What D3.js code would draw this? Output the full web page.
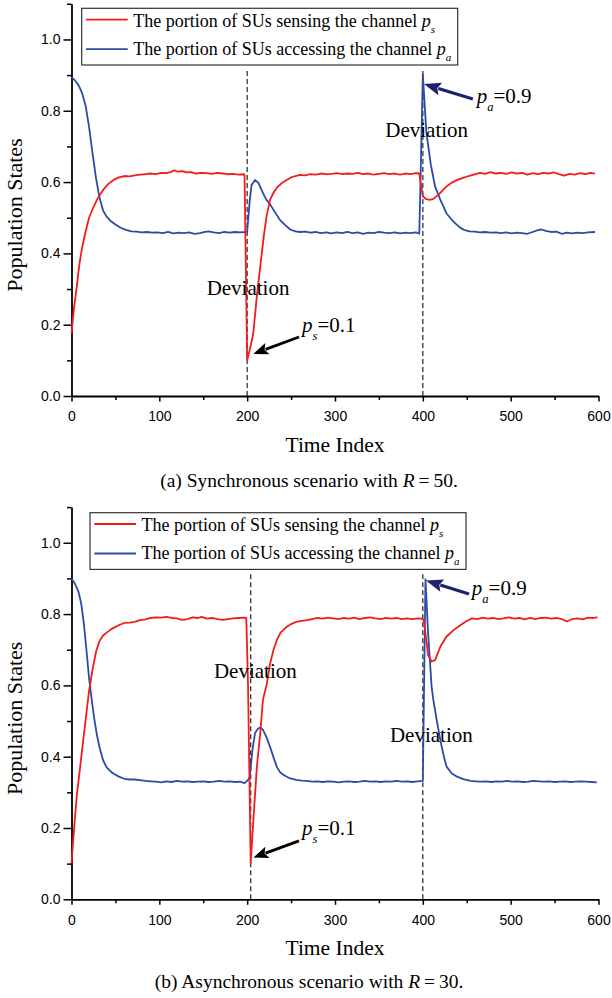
<!DOCTYPE html>
<html>
<head>
<meta charset="utf-8">
<script src="https://cdn.jsdelivr.net/npm/d3@7"></script>
<style>
  body { margin: 0; background: #fff; }
  svg { display: block; }
</style>
</head>
<body>
<script>
// values, [time index, population state]
const psSync = [[0,0.176],[3,0.25],[6,0.307],[9,0.37],[12,0.415],[16,0.46],[20,0.5],[25,0.53],[30,0.555],[36,0.578],[42,0.595],[48,0.606],[54,0.613],[60,0.617],[66,0.616],[72,0.619],[78,0.621],[84,0.622],[90,0.624],[96,0.622],[102,0.626],[108,0.625],[113,0.628],[117,0.633],[121,0.629],[126,0.631],[131,0.627],[136,0.628],[142,0.624],[148,0.626],[154,0.625],[160,0.623],[166,0.626],[172,0.624],[178,0.622],[184,0.623],[190,0.621],[196,0.622],[197,0.62],[200,0.101],[203,0.13],[207,0.176],[211,0.28],[215,0.365],[219,0.45],[222,0.503],[226,0.55],[230,0.57],[234,0.585],[240,0.598],[245,0.606],[250,0.613],[255,0.617],[260,0.62],[266,0.619],[272,0.622],[278,0.621],[284,0.624],[290,0.622],[296,0.623],[302,0.625],[308,0.622],[314,0.624],[320,0.623],[326,0.626],[332,0.622],[338,0.624],[344,0.621],[350,0.623],[356,0.625],[362,0.622],[368,0.624],[374,0.621],[380,0.624],[386,0.622],[392,0.625],[396,0.624],[398,0.59],[400,0.56],[404,0.552],[408,0.55],[412,0.553],[418,0.565],[423,0.578],[428,0.59],[434,0.6],[440,0.607],[446,0.612],[452,0.617],[458,0.621],[465,0.626],[471,0.623],[477,0.628],[483,0.624],[489,0.626],[495,0.623],[501,0.627],[507,0.624],[513,0.626],[519,0.621],[525,0.625],[531,0.622],[537,0.626],[543,0.624],[549,0.627],[555,0.622],[561,0.618],[567,0.623],[573,0.621],[579,0.625],[585,0.622],[591,0.626],[596,0.624]];

const paSync = [[0,0.894],[4,0.885],[8,0.872],[12,0.85],[16,0.815],[20,0.755],[24,0.68],[28,0.61],[32,0.555],[36,0.52],[40,0.503],[45,0.49],[50,0.481],[56,0.472],[62,0.466],[68,0.462],[74,0.461],[80,0.459],[86,0.46],[92,0.458],[98,0.459],[104,0.457],[110,0.46],[116,0.456],[122,0.458],[128,0.457],[134,0.459],[140,0.455],[146,0.457],[152,0.46],[156,0.462],[162,0.459],[168,0.457],[174,0.46],[180,0.458],[186,0.46],[192,0.459],[198,0.46],[200,0.461],[203,0.55],[205,0.592],[209,0.606],[213,0.597],[218,0.569],[222,0.55],[226,0.538],[230,0.522],[237,0.495],[243,0.48],[249,0.467],[255,0.462],[260,0.46],[266,0.461],[272,0.458],[278,0.46],[284,0.457],[290,0.459],[296,0.456],[302,0.459],[308,0.457],[314,0.46],[320,0.457],[326,0.459],[332,0.455],[338,0.458],[344,0.457],[350,0.46],[356,0.458],[362,0.457],[368,0.459],[374,0.456],[380,0.458],[386,0.457],[392,0.459],[396,0.455],[400,0.902],[404,0.74],[409,0.65],[414,0.587],[420,0.55],[427,0.512],[432,0.497],[437,0.484],[442,0.473],[447,0.466],[453,0.462],[459,0.461],[465,0.459],[471,0.46],[477,0.458],[483,0.459],[489,0.457],[495,0.459],[501,0.456],[507,0.458],[513,0.457],[519,0.455],[525,0.46],[531,0.465],[535,0.467],[540,0.463],[546,0.46],[552,0.461],[558,0.455],[564,0.458],[570,0.456],[576,0.458],[582,0.457],[588,0.459],[596,0.46]];

const psAsync = [[0,0.101],[3,0.2],[6,0.29],[10,0.375],[14,0.46],[17,0.522],[20,0.585],[24,0.645],[28,0.695],[32,0.725],[36,0.74],[40,0.748],[45,0.757],[50,0.764],[55,0.77],[60,0.775],[66,0.776],[72,0.778],[78,0.783],[84,0.785],[90,0.789],[96,0.791],[102,0.79],[108,0.792],[114,0.789],[120,0.788],[126,0.784],[132,0.786],[138,0.791],[144,0.789],[148,0.792],[154,0.787],[160,0.789],[166,0.786],[172,0.784],[178,0.786],[184,0.788],[190,0.789],[196,0.79],[199,0.789],[201,0.6],[204,0.101],[207,0.22],[211,0.37],[215,0.47],[218,0.56],[222,0.6],[226,0.66],[230,0.7],[234,0.728],[238,0.748],[244,0.762],[250,0.772],[256,0.778],[262,0.781],[268,0.783],[274,0.786],[280,0.789],[286,0.787],[292,0.79],[298,0.788],[304,0.786],[310,0.789],[316,0.787],[322,0.79],[328,0.786],[334,0.789],[340,0.791],[346,0.788],[352,0.786],[358,0.789],[364,0.787],[370,0.789],[376,0.786],[382,0.788],[388,0.786],[394,0.788],[399,0.787],[401,0.783],[404,0.727],[406,0.685],[410,0.667],[414,0.671],[420,0.709],[427,0.737],[435,0.755],[441,0.766],[446,0.774],[451,0.782],[456,0.788],[462,0.786],[468,0.79],[474,0.787],[480,0.789],[486,0.786],[492,0.788],[498,0.791],[504,0.787],[510,0.789],[516,0.785],[522,0.789],[528,0.786],[534,0.789],[540,0.79],[546,0.787],[552,0.789],[558,0.786],[564,0.779],[570,0.786],[576,0.788],[582,0.785],[588,0.79],[594,0.789],[599,0.791]];

const paAsync = [[0,0.9],[4,0.885],[8,0.862],[11,0.83],[14,0.775],[17,0.7],[20,0.62],[23,0.56],[26,0.505],[29,0.46],[32,0.425],[36,0.39],[40,0.37],[44,0.36],[48,0.352],[54,0.344],[60,0.338],[66,0.336],[72,0.336],[78,0.334],[84,0.332],[90,0.331],[96,0.33],[102,0.328],[108,0.331],[114,0.329],[120,0.332],[126,0.33],[132,0.331],[138,0.329],[144,0.33],[150,0.331],[156,0.329],[162,0.33],[168,0.332],[174,0.33],[180,0.331],[186,0.329],[192,0.33],[197,0.326],[201,0.335],[203,0.344],[206,0.419],[209,0.466],[212,0.478],[215,0.482],[218,0.475],[222,0.455],[226,0.428],[230,0.398],[234,0.37],[238,0.355],[242,0.348],[249,0.339],[256,0.335],[262,0.333],[268,0.332],[274,0.33],[280,0.331],[286,0.329],[292,0.331],[298,0.33],[304,0.328],[310,0.33],[316,0.331],[322,0.329],[328,0.33],[334,0.332],[340,0.33],[346,0.331],[352,0.329],[358,0.331],[364,0.33],[370,0.332],[376,0.33],[382,0.331],[388,0.329],[394,0.331],[400,0.332],[403,0.898],[406,0.746],[410,0.596],[412,0.559],[416,0.5],[420,0.445],[424,0.4],[427,0.372],[433,0.353],[439,0.344],[446,0.337],[454,0.332],[460,0.331],[466,0.33],[472,0.331],[478,0.329],[484,0.331],[490,0.33],[496,0.332],[502,0.33],[508,0.331],[514,0.329],[520,0.33],[526,0.332],[532,0.331],[538,0.33],[544,0.331],[550,0.329],[556,0.33],[562,0.331],[568,0.329],[574,0.33],[580,0.331],[586,0.33],[592,0.329],[598,0.328]];

const xTicks = [0, 100, 200, 300, 400, 500, 600];
const xMinor = [50, 150, 250, 350, 450, 550];
const yTicks = [0, 0.2, 0.4, 0.6, 0.8, 1.0];
const yMinor = [0.1, 0.3, 0.5, 0.7, 0.9, 1.1];

const deviationSync = [200, 400];
const deviationAsync = [204, 400];

const legendText = ["The portion of SUs sensing the channel ", "The portion of SUs accessing the channel "];
const legendSub = ["s", "a"];

const RED = "#f21c1c", BLUE = "#2b4ca6", NAVY = "#1e2170";
const SERIF = "'Liberation Serif', 'Times New Roman', serif";
const SANS = "'Liberation Sans', Arial, sans-serif";

const W = 612, H = 998;
const svg = d3.select("body").append("svg").attr("width", W).attr("height", H);

// filled arrow from tail to tip (pixel coords)
function arrow(g, x1, y1, x2, y2, color, lw, hl, hw) {
  const dx = x2 - x1, dy = y2 - y1, len = Math.hypot(dx, dy);
  const ux = dx / len, uy = dy / len;
  const bx = x2 - ux * hl, by = y2 - uy * hl;
  g.append("line").attr("x1", x1).attr("y1", y1).attr("x2", bx + ux * 2).attr("y2", by + uy * 2)
    .attr("stroke", color).attr("stroke-width", lw);
  g.append("polygon")
    .attr("points", [[x2, y2], [bx - uy * hw, by + ux * hw], [bx + ux * 3, by + uy * 3], [bx + uy * hw, by - ux * hw]].map(p => p.join(",")).join(" "))
    .attr("fill", color);
}

function subText(g, x, y, size, sub, rest, color) {
  const t = g.append("text").attr("x", x).attr("y", y)
    .attr("font-family", SERIF).attr("font-size", size).attr("fill", color || "#000");
  t.append("tspan").attr("font-style", "italic").text("p");
  t.append("tspan").attr("font-style", "italic").attr("font-size", size * 0.6).attr("dy", size * 0.38).text(sub);
  if (rest) t.append("tspan").attr("dy", -size * 0.38).text(rest);
  return t;
}

function drawPanel(p) {
  const x = d3.scaleLinear().domain([0, 600]).range([71.5, 598.5]);
  const y = d3.scaleLinear().domain([0, 1.1]).range([p.base, p.base - 392.2]);
  const g = svg.append("g");

  // dashed deviation markers
  p.dev.forEach(t => {
    g.append("line")
      .attr("x1", x(t)).attr("x2", x(t))
      .attr("y1", y(0)).attr("y2", y(0.912))
      .attr("stroke", "#333").attr("stroke-width", 1.3)
      .attr("stroke-dasharray", "5,3");
  });

  // axes
  g.append("g").attr("transform", `translate(0,${y(0)})`)
    .call(d3.axisBottom(x).tickValues(xTicks).tickSize(5.5).tickSizeOuter(0).tickPadding(10).tickFormat(d3.format("d")));
  g.append("g").attr("transform", `translate(0,${y(0)})`)
    .call(d3.axisBottom(x).tickValues(xMinor).tickSize(4).tickFormat(""))
    .select(".domain").remove();
  g.append("g").attr("transform", `translate(${x(0)},0)`)
    .call(d3.axisLeft(y).tickValues(yTicks).tickSize(8).tickSizeOuter(0).tickPadding(3).tickFormat(d3.format(".1f")));
  g.append("g").attr("transform", `translate(${x(0)},0)`)
    .call(d3.axisLeft(y).tickValues(yMinor).tickSize(4.5).tickFormat(""))
    .select(".domain").remove();

  g.selectAll(".domain").attr("stroke", "#000").attr("stroke-width", 1.8);
  g.selectAll(".tick line").attr("stroke", "#000").attr("stroke-width", 1.5);
  g.selectAll(".tick text").attr("font-family", SANS).attr("font-size", 14).attr("fill", "#000");

  // axis titles
  g.append("text").attr("x", (x(0) + x(600)) / 2).attr("y", p.base + 55.7)
    .attr("text-anchor", "middle").attr("font-family", SERIF).attr("font-size", 21.5)
    .text("Time Index");
  g.append("text").attr("transform", `translate(22,${p.base - 181}) rotate(-90)`)
    .attr("text-anchor", "middle").attr("font-family", SERIF).attr("font-size", 22)
    .text("Population States");

  // curves
  const line = d3.line().x(d => x(d[0])).y(d => y(d[1]));
  g.append("path").datum(p.pa).attr("d", line).attr("fill", "none")
    .attr("stroke", BLUE).attr("stroke-width", 1.8).attr("stroke-linejoin", "round");
  g.append("path").datum(p.ps).attr("d", line).attr("fill", "none")
    .attr("stroke", RED).attr("stroke-width", 1.8).attr("stroke-linejoin", "round");

  // legend
  const lg = g.append("g").attr("transform", `translate(${p.legX},${p.legY})`);
  lg.append("rect").attr("width", 376).attr("height", 56.7)
    .attr("fill", "#fff").attr("stroke", "#333").attr("stroke-width", 1.2);
  [RED, BLUE].forEach((c, i) => {
    lg.append("line").attr("x1", 4.3).attr("x2", 46).attr("y1", 11.3 + i * 29.5).attr("y2", 11.3 + i * 29.5)
      .attr("stroke", c).attr("stroke-width", 1.8);
    const t = lg.append("text").attr("x", 51.6).attr("y", 18.6 + i * 28.2)
      .attr("font-family", SERIF).attr("font-size", 18);
    t.append("tspan").text(legendText[i]);
    t.append("tspan").attr("font-style", "italic").text("p");
    t.append("tspan").attr("font-style", "italic").attr("font-size", 11).attr("dy", 6).text(legendSub[i]);
  });

  // annotations
  p.notes.forEach(n => {
    g.append("text").attr("x", x(n[0])).attr("y", y(n[1]))
      .attr("text-anchor", "middle").attr("font-family", SERIF).attr("font-size", 21)
      .text("Deviation");
  });
  arrow(g, x(p.paArrow[0]), y(p.paArrow[1]), x(p.paArrow[2]), y(p.paArrow[3]), NAVY, 3.2, 17, 6.5);
  subText(g, x(p.paLabel[0]), y(p.paLabel[1]), 21, "a", "=0.9");
  arrow(g, x(p.psArrow[0]), y(p.psArrow[1]), x(p.psArrow[2]), y(p.psArrow[3]), "#000", 2.8, 15, 6);
  subText(g, x(p.psLabel[0]), y(p.psLabel[1]), 21, "s", "=0.1");

  // caption
  const cap = svg.append("text").attr("x", 309).attr("y", p.capY)
    .attr("text-anchor", "middle").attr("font-family", SERIF).attr("font-size", 19.5);
  cap.append("tspan").text(p.caption + " with ");
  cap.append("tspan").attr("font-style", "italic").text("R");
  cap.append("tspan").text("\u2009=\u2009" + p.R + ".");
}

drawPanel({
  base: 396, ps: psSync, pa: paSync, dev: deviationSync,
  legX: 81.7, legY: 8.3,
  notes: [[201, 0.283], [404.4, 0.727]],
  paArrow: [457, 0.833, 401.3, 0.875], paLabel: [461.3, 0.821],
  psArrow: [259, 0.1655, 207, 0.118], psLabel: [262.4, 0.18],
  caption: "(a) Synchronous scenario", R: 50, capY: 486.7
});

drawPanel({
  base: 899.3, ps: psAsync, pa: paAsync, dev: deviationAsync,
  legX: 90, legY: 512.7,
  notes: [[209.3, 0.62], [409.7, 0.442]],
  paArrow: [452.6, 0.856, 403.6, 0.894], paLabel: [455.7, 0.854],
  psArrow: [259, 0.164, 207, 0.117], psLabel: [262.4, 0.18],
  caption: "(b) Asynchronous scenario", R: 30, capY: 988.3
});
</script>
</body>
</html>
